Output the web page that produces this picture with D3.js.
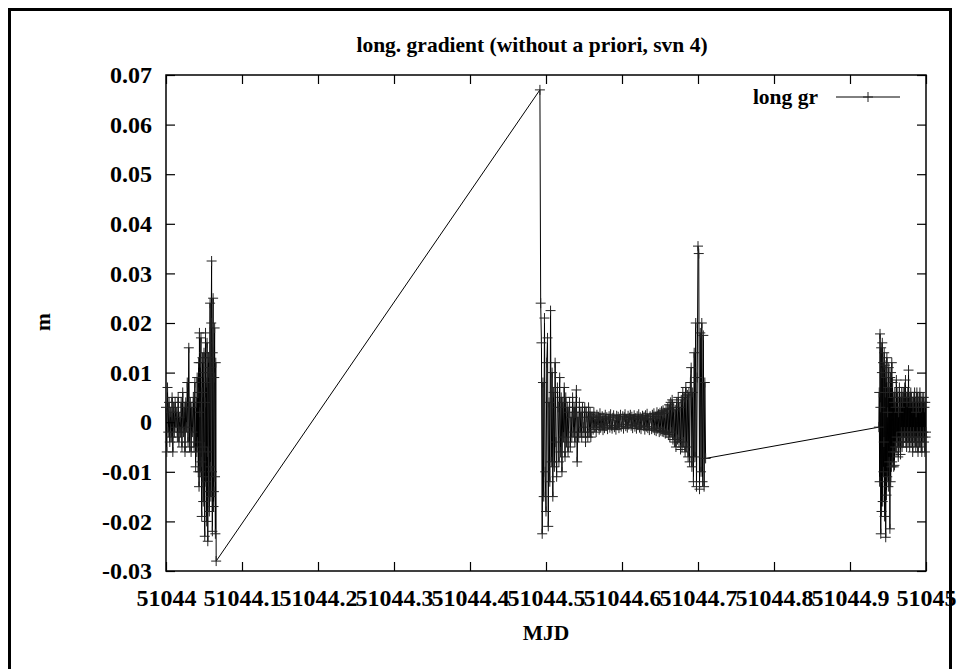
<!DOCTYPE html>
<html><head><meta charset="utf-8">
<script src="https://cdn.jsdelivr.net/npm/d3@7"></script>
<style>
body{margin:0;background:#fff}
text{font-family:"Liberation Serif","Times New Roman",serif;font-weight:bold;fill:#000}
.lab{font-size:21.5px}
.tick text{font-size:24px}
</style>
</head><body><svg id="c" width="958" height="669"></svg>
<script>
const mjdBase = 51044;
const chartTitle = "long. gradient (without a priori, svn 4)";
const xAxisTitle = "MJD";
const yAxisTitle = "m";
const seriesName = "long gr";
const xTicks = [0, .1, .2, .3, .4, .5, .6, .7, .8, .9, 1];
const xTickLabels = ["51044","51044.1","51044.2","51044.3","51044.4","51044.5","51044.6","51044.7","51044.8","51044.9","51045"];
const yTicks = [-.03, -.02, -.01, 0, .01, .02, .03, .04, .05, .06, .07];
const yTickLabels = ["-0.03","-0.02","-0.01","0","0.01","0.02","0.03","0.04","0.05","0.06","0.07"];

// times are MJD - 51044
const timesA = [0,.001,.002,.003,.004,.005,.006,.007,.008,.009,
 .010,.011,.012,.013,.014,.015,.016,.017,.018,.019,
 .020,.021,.022,.023,.024,.025,.026,.027,.028,.029,
 .030,.031,.032,.033,.034,.035,.036,.037,.038,.039,
 .040,
 .0405,.041,.0415,.042,.0425,.043,.0435,.044,.0445,.045,
 .0455,.046,.0465,.047,.0475,.048,.0485,.049,.0495,.050,
 .0505,.051,.0515,.052,.0525,.053,.0535,.054,.0545,.055,
 .0555,.056,.0565,.057,.0575,.058,.0585,.059,.0595,.060,
 .0605,.061,.0615,.062,.0625,.063,.0635,.064,.0645,.065,
 .0655,.066];
const valuesA = [.003,-.006,.007,-.002,.004,-.004,.002,-.003,.005,-.006,
 .003,-.002,.004,-.001,.002,-.003,.005,-.004,.001,-.002,
 .004,-.005,.006,-.002,.003,-.006,.004,-.001,.008,-.004,
 .015,-.005,.004,-.006,.003,-.002,.005,-.005,.008,-.009,
 .004,
 -.006,.009,-.004,.006,-.010,.012,-.013,.018,.002,-.010,
 .012,.017,-.008,-.019,.006,.013,-.011,-.016,.010,.014,
 -.005,-.023,.004,.018,-.012,.008,-.020,.016,-.006,-.024,
 .010,.013,-.014,-.018,.011,.024,-.009,-.015,.020,.0325,
 -.010,-.022,.014,.025,-.017,-.014,.009,.019,-.011,-.0225,
 .012,-.028];

const timesB = [.492,.493,.494,.495,.496,.497,.498,.499,
 .500,.501,.502,.503,.504,.505,.506,.507,.508,.509,
 .510,.511,.512,.513,.514,.515,.516,.517,.518,.519,
 .520,.521,.522,.523,.524,.525,.526,.527,.528,.529,
 .530,.531,.532,.533,.534,.535,.536,.537,.538,.539,
 .540,.541,.542,.543,.544,.545,.546,.547,.548,.549,
 .550,.551,.552,.553,.554,.555,.556,.557,.558,.559,
 .560,.561,.562,.563,.564,.565,.566,.567,.568,.569,
 .570,.571,.572,.573,.574,.575,.576,.577,.578,.579,
 .580,.581,.582,.583,.584,.585,.586,.587,.588,.589,
 .590,.591,.592,.593,.594,.595,.596,.597,.598,.599,
 .600,.601,.602,.603,.604,.605,.606,.607,.608,.609,
 .610,.611,.612,.613,.614,.615,.616,.617,.618,.619,
 .620,.621,.622,.623,.624,.625,.626,.627,.628,.629,
 .630,.631,.632,.633,.634,.635,.636,.637,.638,.639,
 .640,.641,.642,.643,.644,.645,.646,.647,.648,.649,
 .650,.651,.652,.653,.654,.655,.656,.657,.658,.659,
 .660,.661,.662,.663,.664,.665,.666,.667,.668,.669,
 .670,.671,.672,.673,.674,.675,.676,.677,.678,.679,
 .680,.681,.682,.683,.684,.685,.686,.687,.688,.689,
 .690,.691,.692,.693,.694,.695,.696,.697,.698,.699,
 .700,.701,.702,.703,.704,.705,.706,.707,.708,.709,
 .710];
const valuesB = [.067,
 .024,.016,-.0225,.008,-.015,.021,-.010,-.018,.012,.017,-.021,.004,-.012,.0225,-.008,
 .010,-.015,.006,-.009,.012,-.004,-.011,.007,.003,-.008,.009,-.006,.005,-.010,.004,-.003,.007,-.007,
 .005,-.004,.003,-.006,.002,.004,-.005,.001,-.003,.005,
 -.002,.003,-.004,.002,.0065,-.008,.001,-.003,.004,-.002,
 .002,-.003,.003,-.001,-.002,.003,-.004,.002,.001,-.003,
 .003,-.002,.002,-.003,.001,
 .001,-.0015,.002,-.001,.0005,-.002,.0015,-.0005,.001,-.0015,
 .0018,-.001,-.0003,.0012,-.0016,.0008,-.0012,.0015,-.0008,.001,
 -.0014,.0006,.0012,-.0011,.0016,-.0007,-.0013,.0009,.0014,-.001,
 .0004,-.0015,.0013,-.0006,.0011,-.0012,.0007,.0015,-.0009,-.0004,
 .0012,-.0013,.001,.0016,-.0008,.0005,-.0011,.0013,-.0005,.0009,
 .0015,-.0007,.0011,-.0012,.0006,.0014,-.0009,.0008,-.0013,.0012,
 -.0006,.0016,-.0011,.001,-.0014,.0007,.0013,-.0008,.0011,-.0015,
 .0014,-.0009,.0017,-.0012,.0006,-.0016,.0012,.0008,-.0014,.0015,
 -.0012,.0018,-.0016,.0011,-.0018,.002,-.0013,.0016,-.002,.0019,
 -.0017,.0022,-.0019,.0024,-.002,.0018,-.0023,.0026,-.0021,.0028,
 -.0025,.0035,-.003,.004,-.002,.0045,-.0035,.003,-.004,.0025,
 -.005,.004,-.0035,.005,-.004,.003,-.0055,.0045,-.005,.006,
 -.004,.005,-.006,.007,-.005,.0055,-.007,.006,-.008,.008,
 .011,-.009,.006,-.012,.014,-.007,.02,-.013,.009,.0355,
 .034,-.0135,.018,-.010,.02,-.012,.0175,-.013,.008,-.0073];

const timesC = [.938,.9385,.939,.9395,.940,.9405,.941,.9415,.942,.9425,
 .943,.9435,.944,.9445,.945,.9455,.946,.9465,.947,.9475,
 .948,.9485,.949,.9495,.950,.9505,.951,.9515,.952,.9525,
 .953,.9535,.954,.9545,.955,.9555,.956,.9565,.957,.9575,
 .958,.9585,.959,.9595,.960,.9605,.961,.9615,.962,.9625,
 .963,.9635,.964,.9645,.965,.9655,.966,.9665,.967,.9675,
 .968,.9685,.969,.9695,.970,.9705,.971,.9715,.972,.9725,
 .973,.9735,.974,.9745,.975,.9755,.976,.9765,.977,.9775,
 .978,.9785,.979,.9795,.980,.9805,.981,.9815,.982,.9825,
 .983,.9835,.984,.9845,.985,.9855,.986,.9865,.987,.9875,
 .988,.9885,.989,.9895,.990,.9905,.991,.9915,.992,.9925,
 .993,.9935,.994,.9945,.995,.9955,.996,.9965,.997,.9975,
 .998,.9985,.999,.9995,1.000];
const valuesC = [-.001,
 .006,-.012,.0178,.003,-.0225,.015,-.018,.010,.016,-.016,
 .012,-.010,-.004,.014,-.019,.0115,.006,-.0232,.009,-.0147,
 .013,-.011,.002,.007,-.013,.011,-.008,.006,-.0215,.009,
 -.012,.010,-.009,.012,
 -.008,.008,-.006,.005,-.009,.004,-.0087,.006,-.005,.003,
 -.006,.0085,-.003,.006,-.004,.005,-.007,.002,-.005,.007,
 -.004,.003,-.0065,.005,-.002,.006,-.005,.004,-.003,.006,
 -.004,.005,-.002,.007,-.003,.0085,-.004,.005,-.005,.004,
 -.002,.006,-.004,.0105,-.003,.005,-.005,.004,-.002,.006,
 -.004,.005,-.003,.004,-.006,.003,-.002,.005,-.004,.006,
 -.003,.004,-.005,.002,-.004,.006,-.002,.005,-.006,.003,
 -.003,.005,-.004,.006,-.002,.004,-.005,.003,-.006,.005,
 -.003,.004,-.002,.005,-.004,.003,-.006,.004,-.003,-.002];

const times = timesA.concat(timesB, timesC);
const values = valuesA.concat(valuesB, valuesC);
const points = times.map((t, i) => ({t, v: values[i]})).filter(d => d.v !== undefined);

const svg = d3.select("#c");
const L = 166, R = 926, T = 75, B = 571;
const x = d3.scaleLinear().domain([0, 1]).range([L, R]);
const y = d3.scaleLinear().domain([-0.03, 0.07]).range([B, T]);

// outer frame
svg.append("path").attr("d", "M9.5,669V9.5H950.5V669")
  .attr("fill", "none").attr("stroke", "#000").attr("stroke-width", 3);

// axes
const tickLen = 9;
const gx = svg.append("g").attr("transform", `translate(0,${B})`)
  .call(d3.axisBottom(x).tickValues(xTicks).tickFormat((d, i) => xTickLabels[i])
    .tickSizeInner(-tickLen).tickSizeOuter(0).tickPadding(18));
const gxt = svg.append("g").attr("transform", `translate(0,${T})`)
  .call(d3.axisTop(x).tickValues(xTicks).tickFormat("").tickSizeInner(-tickLen).tickSizeOuter(0));
const gy = svg.append("g").attr("transform", `translate(${L},0)`)
  .call(d3.axisLeft(y).tickValues(yTicks).tickFormat((d, i) => yTickLabels[i])
    .tickSizeInner(-tickLen).tickSizeOuter(0).tickPadding(14));
const gyr = svg.append("g").attr("transform", `translate(${R},0)`)
  .call(d3.axisRight(y).tickValues(yTicks).tickFormat("").tickSizeInner(-tickLen).tickSizeOuter(0));
[gx, gxt, gy, gyr].forEach(g => {
  g.select(".domain").remove();
  g.attr("font-family", null).attr("font-size", null);
  g.selectAll("line").attr("stroke", "#000").attr("stroke-width", 1.2);
});
gx.selectAll("text").attr("dy", null).attr("y", 35);

svg.append("rect").attr("x", L).attr("y", T).attr("width", R - L).attr("height", B - T)
  .attr("fill", "none").attr("stroke", "#000").attr("stroke-width", 1.5);

// series
const line = d3.line().x(d => x(d.t)).y(d => y(d.v));
svg.append("path").datum(points).attr("d", line)
  .attr("fill", "none").attr("stroke", "#000").attr("stroke-width", 1);
const plus = (cx, cy, s) => `M${cx - s},${cy}H${cx + s}M${cx},${cy - s}V${cy + s}`;
svg.append("path")
  .attr("d", points.map(d => plus(x(d.t), y(d.v), 5)).join(""))
  .attr("fill", "none").attr("stroke", "#222").attr("stroke-width", 1);

// titles
svg.append("text").attr("class", "lab").attr("x", 532).attr("y", 52).attr("text-anchor", "middle").text(chartTitle);
svg.append("text").attr("class", "lab").attr("x", 546).attr("y", 640).attr("text-anchor", "middle").text(xAxisTitle);
svg.append("text").attr("class", "lab").attr("transform", "translate(50,322) rotate(-90)").attr("text-anchor", "middle").text(yAxisTitle);

// legend
svg.append("text").attr("class", "lab").attr("x", 818).attr("y", 104).attr("text-anchor", "end").text(seriesName);
svg.append("line").attr("x1", 836).attr("x2", 900).attr("y1", 97).attr("y2", 97)
  .attr("stroke", "#000").attr("stroke-width", 1);
svg.append("path").attr("d", plus(868, 97, 5)).attr("stroke", "#222").attr("stroke-width", 1);
</script>
</body></html>
